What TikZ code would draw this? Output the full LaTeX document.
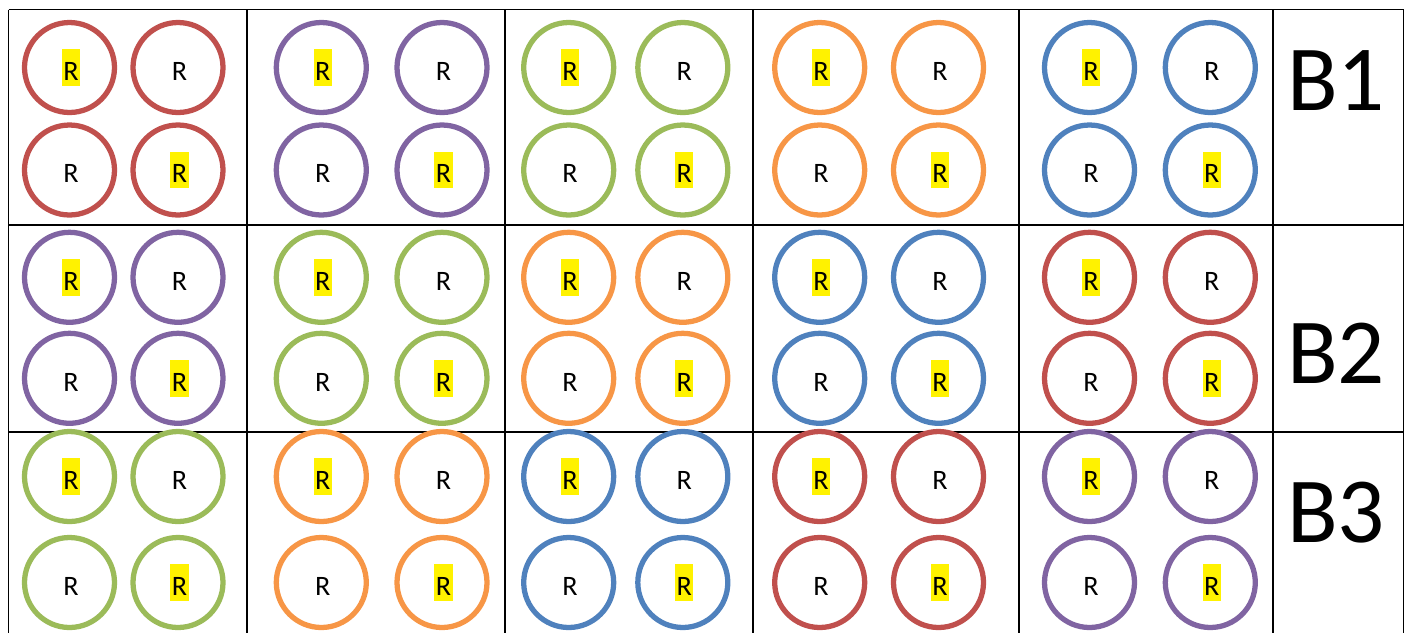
\documentclass[tikz,border=0pt]{standalone}
\usepackage{fontspec}
\setmainfont{Carlito}
\usepackage{xcolor}
\usepackage{tikz}

\definecolor{wred}{HTML}{C0504D}
\definecolor{wpurple}{HTML}{8064A2}
\definecolor{wgreen}{HTML}{9BBB59}
\definecolor{worange}{HTML}{F79646}
\definecolor{wblue}{HTML}{4F81BD}

\begin{document}
\begin{tikzpicture}[x=0.02cm, y=-0.02cm,
    gridline/.style={draw=black, line width=1.1pt},
    well/.style={circle, line width=3pt, minimum size=1.8cm, inner sep=0pt},
    rlab/.style={font=\fontsize{16}{19}\selectfont, inner sep=0pt, minimum width=10.4pt, text height=17.7pt, text depth=3.2pt, xshift=0.8pt},
    rmark/.style={rlab, fill=yellow},
    blab/.style={font=\fontsize{53}{60}\selectfont, anchor=base, inner sep=0pt}]

    \useasboundingbox (0,0) rectangle (1413,633);

    % Table lines
    \foreach \gx in {8.5, 247.3, 505, 752.7, 1019, 1273.3, 1403.5}
        \draw[gridline] (\gx,9.5) -- (\gx,633);
    \foreach \gy in {9.5, 225.3, 431.7}
        \draw[gridline] (8.5,\gy) -- (1403.5,\gy);

    % Wells, colour shifts by one per row
    \foreach \row/\ya/\yb in {0/67.5/170, 1/277.3/378.3, 2/476.5/582.5}
    \foreach \col/\xa/\xb in {0/69.5/178, 1/321.3/442, 2/568.7/682.8, 3/819.7/938.5, 4/1089.5/1210.3} {
        \pgfmathparse{{"wred","wpurple","wgreen","worange","wblue"}[mod(\row+\col,5)]}
        \edef\wcol{\pgfmathresult}
        \node[well, draw=\wcol] (w\row\col a) at (\xa,\ya) {};
        \node[well, draw=\wcol] (w\row\col b) at (\xb,\ya) {};
        \node[well, draw=\wcol] (w\row\col c) at (\xa,\yb) {};
        \node[well, draw=\wcol] (w\row\col d) at (\xb,\yb) {};
        \node[rmark] (r\row\col a) at (w\row\col a) {R};
        \node[rlab] (r\row\col b) at (w\row\col b) {R};
        \node[rlab] (r\row\col c) at (w\row\col c) {R};
        \node[rmark] (r\row\col d) at (w\row\col d) {R};
    }

    % Block labels
    \node[blab] (b1) at (1336,110.7) {B1};
    \node[blab] (b2) at (1336,383.3) {B2};
    \node[blab] (b3) at (1336,542.7) {B3};
\end{tikzpicture}
\end{document}
